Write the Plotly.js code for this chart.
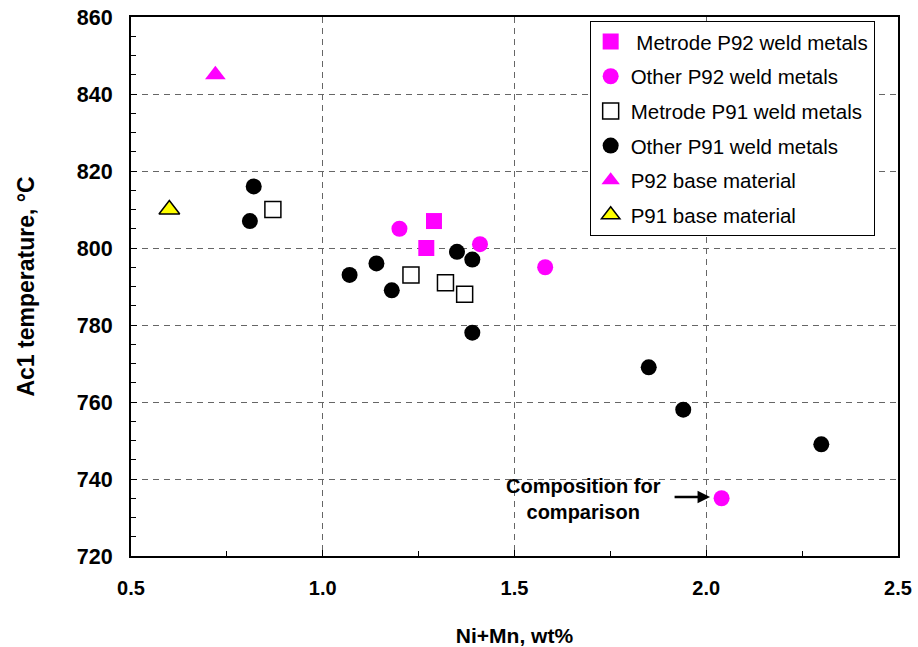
<!DOCTYPE html>
<html>
<head>
<meta charset="utf-8">
<script src="https://cdn.plot.ly/plotly-3.0.1.min.js"></script>
<style>
  html, body { margin: 0; padding: 0; background: #fff; }
  #chart { width: 918px; height: 647px; }
</style>
</head>
<body>
<div id="chart"></div>
<script>
// Ac1 temperature vs Ni+Mn content of P91 / P92 weld metals and base materials
const metrodeP92X = [1.29, 1.27];
const metrodeP92Y = [807, 800];

const otherP92X = [1.20, 1.41, 1.58, 2.04];
const otherP92Y = [805, 801, 795, 735];

const metrodeP91X = [0.87, 1.23, 1.32, 1.37];
const metrodeP91Y = [810, 793, 791, 788];

const otherP91X = [0.82, 0.81, 1.07, 1.14, 1.18, 1.35, 1.39, 1.39, 1.85, 1.94, 2.30];
const otherP91Y = [816, 807, 793, 796, 789, 799, 797, 778, 769, 758, 749];

const p92BaseX = [0.72];
const p92BaseY = [845];

const p91BaseX = [0.60];
const p91BaseY = [810];

const seriesNames = [
  ' Metrode P92 weld metals',
  'Other P92 weld metals',
  'Metrode P91 weld metals',
  'Other P91 weld metals',
  'P92 base material',
  'P91 base material'
];

const xTickVals = [0.5, 1.0, 1.5, 2.0, 2.5];
const xTickText = ['0.5', '1.0', '1.5', '2.0', '2.5'];
const yTickVals = [720, 740, 760, 780, 800, 820, 840, 860];

const FONT = 'Liberation Sans, Arial, sans-serif';

function series(x, y, name, i, marker) {
  return {
    x: x, y: y, name: name, type: 'scatter', mode: 'markers',
    legendgroup: 'g' + i, marker: marker, hoverinfo: 'x+y+name'
  };
}

const traces = [
  series(metrodeP92X, metrodeP92Y, seriesNames[0], 0,
    { symbol: 'square', size: 16, color: '#ff00ff' }),
  series(otherP92X, otherP92Y, seriesNames[1], 1,
    { symbol: 'circle', size: 16, color: '#ff00ff' }),
  series(metrodeP91X, metrodeP91Y, seriesNames[2], 2,
    { symbol: 'square', size: 16, color: '#ffffff', line: { color: '#000', width: 1.5 } }),
  series(otherP91X, otherP91Y, seriesNames[3], 3,
    { symbol: 'circle', size: 16, color: '#000000' }),
  series(p92BaseX, p92BaseY, seriesNames[4], 4,
    { symbol: 'triangle-up', size: 18, color: '#ff00ff' }),
  series(p91BaseX, p91BaseY, seriesNames[5], 5,
    { symbol: 'triangle-up', size: 18, color: '#ffff00', line: { color: '#000', width: 1.5 } })
];

const axisCommon = {
  showline: true, linecolor: '#000', linewidth: 2, mirror: true,
  ticks: 'inside', ticklen: 6, tickcolor: '#000', tickwidth: 1,
  showgrid: true, gridcolor: '#666', gridwidth: 1, griddash: '6px,5px',
  zeroline: false
};

const layout = {
  width: 918, height: 647,
  margin: { l: 131, r: 20, t: 17, b: 91 },
  paper_bgcolor: '#fff', plot_bgcolor: '#fff',
  font: { family: FONT, color: '#000' },
  showlegend: true,
  xaxis: Object.assign({}, axisCommon, {
    range: [0.5, 2.5],
    tickvals: xTickVals, ticktext: xTickText,
    tickfont: { family: FONT, size: 20, color: '#000', weight: 'bold' },
    minor: { ticks: 'inside', dtick: 0.25, ticklen: 5, tickcolor: '#000', showgrid: false },
    ticklabelstandoff: 13,
    title: { text: 'Ni+Mn, wt%', standoff: 33,
      font: { family: FONT, size: 21, color: '#000', weight: 'bold' } }
  }),
  yaxis: Object.assign({}, axisCommon, {
    range: [720, 860],
    tickvals: yTickVals,
    tickfont: { family: FONT, size: 21.5, color: '#000', weight: 'bold' },
    minor: { ticks: 'inside', dtick: 5, ticklen: 5, tickcolor: '#000', showgrid: false },
    ticklabelstandoff: 12,
    title: { text: 'Ac1 temperature, °C', standoff: 36,
      font: { family: FONT, size: 23, color: '#000', weight: 'bold' } }
  }),
  legend: {
    x: 0.598, y: 0.993, xanchor: 'left', yanchor: 'top',
    bgcolor: '#fff', bordercolor: '#000', borderwidth: 1,
    font: { family: FONT, size: 20.5, color: '#000' },
    traceorder: 'grouped', tracegroupgap: 5,
    itemwidth: 30
  },
  annotations: [
    {
      x: 1.681, y: 734.8, xref: 'x', yref: 'y',
      text: 'Composition for<br>comparison', showarrow: false,
      font: { family: FONT, size: 20, color: '#000', weight: 'bold' },
      align: 'center'
    },
    {
      x: 2.01, y: 735.3, xref: 'x', yref: 'y',
      ax: -37, ay: 0, text: '', showarrow: true,
      arrowhead: 2, arrowsize: 1, arrowwidth: 2.5, arrowcolor: '#000'
    }
  ]
};

Plotly.newPlot('chart', traces, layout, { displayModeBar: false, staticPlot: true });
</script>
</body>
</html>
